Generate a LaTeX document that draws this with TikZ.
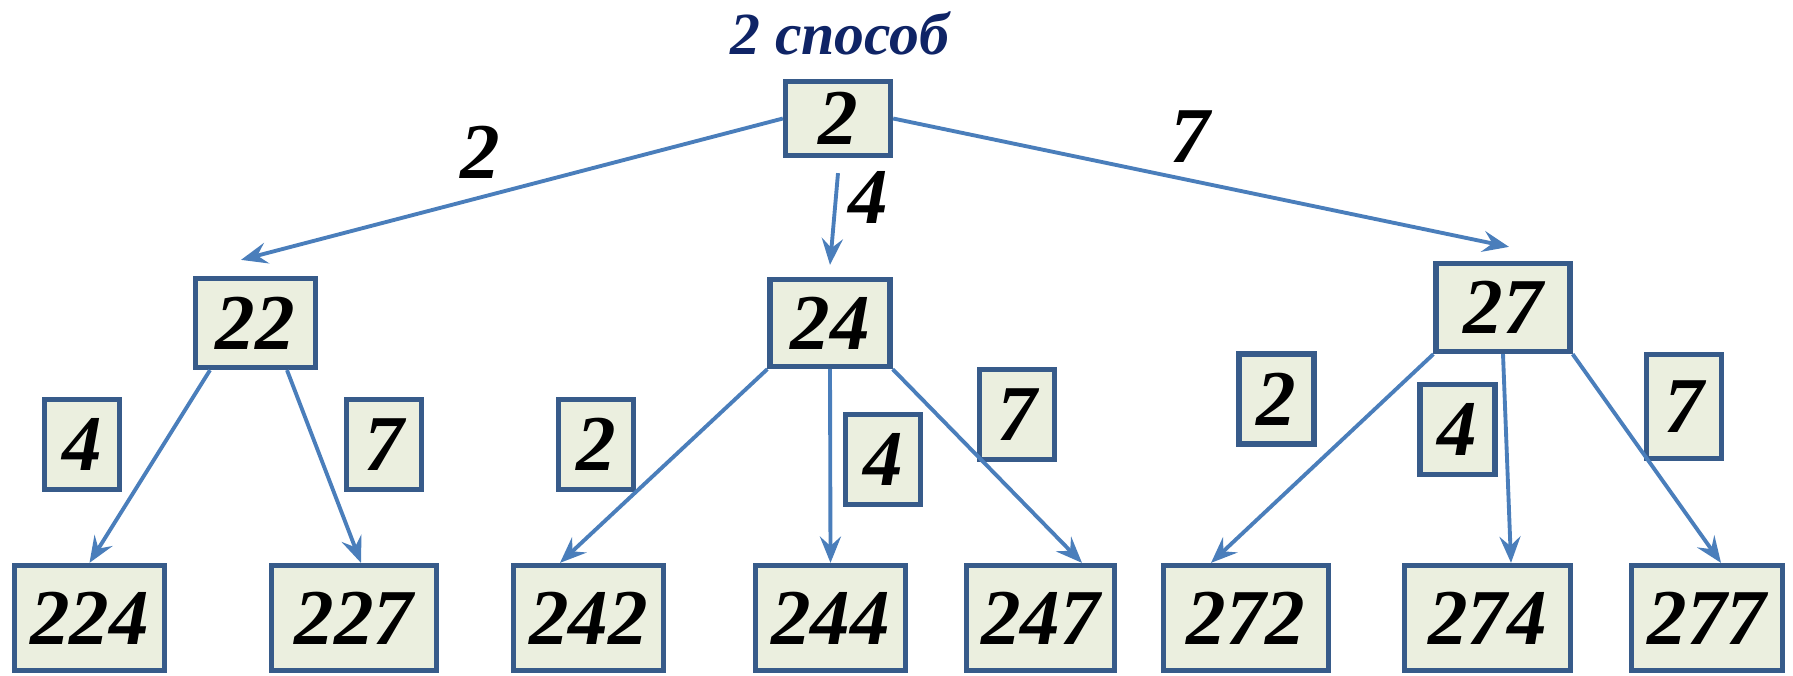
\documentclass[tikz,border=0pt]{standalone}
\usepackage{fontspec}
\setmainfont{Liberation Serif}
\usepackage{xcolor}
\usetikzlibrary{arrows.meta}

\definecolor{boxline}{HTML}{375B8A}
\definecolor{boxfill}{HTML}{EBEFDF}
\definecolor{arrline}{HTML}{4A7EBB}
\definecolor{titleblue}{HTML}{0F2466}

\begin{document}
\begin{tikzpicture}[
    digits/.style={font=\fontsize{22.5}{26}\selectfont\bfseries\itshape},
    box/.style={digits, draw=boxline, fill=boxfill, line width=1.5pt, inner sep=0pt},
    cell/.style={box, minimum width=#1, minimum height=1.05cm},
    tag/.style={box, minimum width=0.75cm, minimum height=0.90cm},
    arr/.style={draw=arrline, line width=1.1pt, -{Stealth[length=7.5pt,width=6pt,inset=2.7pt]}}
]
    \useasboundingbox (0,0) rectangle (17.93,-6.75);
    % Title
    \node[font=\fontsize{17}{20}\selectfont\bfseries\itshape, text=titleblue] (title) at (8.40,-0.33) {2 способ};
    % Root
    \node[box, minimum width=1.05cm, minimum height=0.74cm] (root) at (8.38,-1.185) {2};
    % First level
    \node[box, minimum width=1.20cm, minimum height=0.89cm] (n22) at (2.555,-3.23) {22};
    \node[box, minimum width=1.20cm, minimum height=0.87cm] (n24) at (8.30,-3.23) {24};
    \node[box, minimum width=1.34cm, minimum height=0.88cm] (n27) at (15.03,-3.075) {27};
    % Second level
    \node[cell=1.50cm] (n224) at (0.895,-6.18) {224};
    \node[cell=1.65cm] (n227) at (3.54,-6.18) {227};
    \node[cell=1.50cm] (n242) at (5.885,-6.18) {242};
    \node[cell=1.50cm] (n244) at (8.305,-6.18) {244};
    \node[cell=1.48cm] (n247) at (10.405,-6.18) {247};
    \node[cell=1.65cm] (n272) at (12.46,-6.18) {272};
    \node[cell=1.66cm] (n274) at (14.875,-6.18) {274};
    \node[cell=1.51cm] (n277) at (17.07,-6.18) {277};
    % Digit tags
    \node[tag] (t4a) at (0.82,-4.445) {4};
    \node[tag] (t7a) at (3.84,-4.445) {7};
    \node[tag] (t2b) at (5.96,-4.445) {2};
    \node[tag] (t4b) at (8.83,-4.595) {4};
    \node[tag] (t7b) at (10.17,-4.145) {7};
    \node[tag] (t2c) at (12.765,-3.99) {2};
    \node[tag] (t4c) at (14.575,-4.295) {4};
    \node[tag, minimum height=1.04cm] (t7c) at (16.84,-4.065) {7};
    % Edge labels
    \node[digits] (e2) at (4.80,-1.52) {2};
    \node[digits] (e4) at (8.68,-1.97) {4};
    \node[digits] (e7) at (11.90,-1.37) {7};
    % Arrows from root
    \draw[arr] (root.west) -- ([xshift=-0.145cm,yshift=0.16cm]n22.north);
    \draw[arr] ([yshift=-0.15cm]root.south) -- ([yshift=0.12cm]n24.north);
    \draw[arr] (root.east) -- ([xshift=0.06cm,yshift=0.14cm]n27.north);
    % Arrows to second level
    \draw[arr] ([xshift=-0.455cm]n22.south) -- (n224.north);
    \draw[arr] ([xshift=0.315cm]n22.south) -- ([xshift=0.07cm]n227.north);
    \draw[arr] (n24.south west) -- ([xshift=-0.285cm]n242.north);
    \draw[arr] (n24.south) -- (n244.north);
    \draw[arr] (n24.south east) -- ([xshift=0.415cm]n247.north);
    \draw[arr] (n27.south west) -- ([xshift=-0.35cm]n272.north);
    \draw[arr] (n27.south) -- ([xshift=0.235cm]n274.north);
    \draw[arr] (n27.south east) -- ([xshift=0.14cm]n277.north);
\end{tikzpicture}
\end{document}
